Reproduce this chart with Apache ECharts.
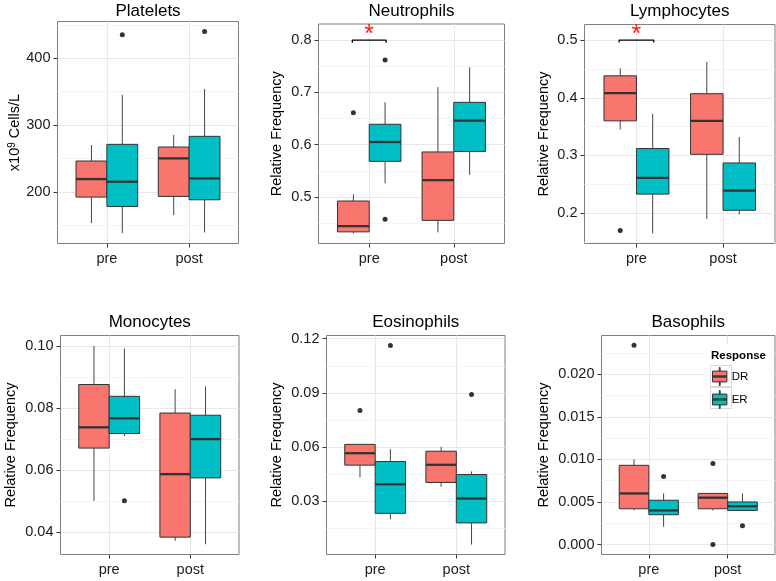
<!DOCTYPE html>
<html><head><meta charset="utf-8">
<script src="https://cdn.jsdelivr.net/npm/echarts@6/dist/echarts.min.js"></script>
<style>html,body{margin:0;padding:0;background:#fff}#c{width:776px;height:581px}</style>
</head><body><div id="c"></div>
<script>
// ---------- DATA ----------
const categories = ['pre', 'post'];
const groups = ['DR', 'ER'];
// five-number summaries per category: [lowWhisker, Q1, median, Q3, highWhisker]
const plateletsDR = [[153, 192, 219, 246, 270], [165, 193, 250, 267, 285]];
const plateletsER = [[138, 178, 215, 271, 345], [139, 188, 220, 283, 354]];
const plateletsDROut = [[], []];
const plateletsEROut = [[435], [440]];
const plateletsTicks = ['200', '300', '400'];

const neutrophilsDR = [[0.430, 0.433, 0.444, 0.492, 0.505], [0.432, 0.455, 0.532, 0.586, 0.710]];
const neutrophilsER = [[0.526, 0.568, 0.605, 0.639, 0.681], [0.542, 0.587, 0.646, 0.681, 0.748]];
const neutrophilsDROut = [[0.661], []];
const neutrophilsEROut = [[0.762, 0.457], []];
const neutrophilsTicks = ['0.5', '0.6', '0.7', '0.8'];
const neutrophilsSig = [0.8, 0.795, 0.82];   // bracket level, bracket end, star

const lymphocytesDR = [[0.345, 0.360, 0.408, 0.438, 0.451], [0.190, 0.302, 0.360, 0.407, 0.462]];
const lymphocytesER = [[0.165, 0.233, 0.261, 0.312, 0.372], [0.198, 0.205, 0.239, 0.287, 0.332]];
const lymphocytesDROut = [[0.170], []];
const lymphocytesEROut = [[], []];
const lymphocytesTicks = ['0.2', '0.3', '0.4', '0.5'];
const lymphocytesSig = [0.5, 0.496, 0.518];

const monocytesDR = [[0.0501, 0.0671, 0.0738, 0.0876, 0.1000], [0.0372, 0.0384, 0.0587, 0.0784, 0.0861]];
const monocytesER = [[0.0710, 0.0718, 0.0767, 0.0838, 0.0992], [0.0361, 0.0575, 0.0700, 0.0777, 0.0870]];
const monocytesDROut = [[], []];
const monocytesEROut = [[0.0501], []];
const monocytesTicks = ['0.04', '0.06', '0.08', '0.10'];

const eosinophilsDR = [[0.0433, 0.0500, 0.0566, 0.0615, 0.0618], [0.0380, 0.0404, 0.0502, 0.0577, 0.0601]];
const eosinophilsER = [[0.0200, 0.0233, 0.0394, 0.0520, 0.0588], [0.0060, 0.0180, 0.0315, 0.0448, 0.0465]];
const eosinophilsDROut = [[0.0803], []];
const eosinophilsEROut = [[0.1163], [0.0891]];
const eosinophilsTicks = ['0.03', '0.06', '0.09', '0.12'];

const basophilsDR = [[0.0040, 0.0042, 0.0060, 0.0093, 0.0100], [0.0040, 0.0042, 0.0055, 0.0060, 0.0060]];
const basophilsER = [[0.0021, 0.0035, 0.0040, 0.0052, 0.0060], [0.0040, 0.0040, 0.0045, 0.0050, 0.0060]];
const basophilsDROut = [[0.0234], [0.0095, 0.0000]];
const basophilsEROut = [[0.0080], [0.0022]];
const basophilsTicks = ['0.000', '0.005', '0.010', '0.015', '0.020'];

// ---------- LAYOUT / STYLE ----------
const COLORS = { DR: '#F8766D', ER: '#00BFC4' };
const BOX_W = 0.375, DODGE = 0.1875;
const FONT = 'Liberation Sans';
const panels = [
  { title: 'Platelets', d: [plateletsDR, plateletsER], o: [plateletsDROut, plateletsEROut], ticks: plateletsTicks,
    range: [122.5, 455], grid: { left: 57.5, top: 21.5, width: 181, height: 222 }, nameGap: 34, name: 'x10{sup|9} Cells/L' },
  { title: 'Neutrophils', d: [neutrophilsDR, neutrophilsER], o: [neutrophilsDROut, neutrophilsEROut], ticks: neutrophilsTicks,
    range: [0.4107, 0.831], grid: { left: 318.5, top: 24, width: 186, height: 219.5 }, nameGap: 34, name: 'Relative Frequency', sig: neutrophilsSig },
  { title: 'Lymphocytes', d: [lymphocytesDR, lymphocytesER], o: [lymphocytesDROut, lymphocytesEROut], ticks: lymphocytesTicks,
    range: [0.1474, 0.527], grid: { left: 584.5, top: 24.5, width: 190.5, height: 219 }, nameGap: 33.5, name: 'Relative Frequency', sig: lymphocytesSig },
  { title: 'Monocytes', d: [monocytesDR, monocytesER], o: [monocytesDROut, monocytesEROut], ticks: monocytesTicks,
    range: [0.0328, 0.1034], grid: { left: 60.5, top: 335.5, width: 178.5, height: 219 }, nameGap: 42, name: 'Relative Frequency' },
  { title: 'Eosinophils', d: [eosinophilsDR, eosinophilsER], o: [eosinophilsDROut, eosinophilsEROut], ticks: eosinophilsTicks,
    range: [0.0005, 0.1218], grid: { left: 326.5, top: 335.5, width: 178.5, height: 219 }, nameGap: 42, name: 'Relative Frequency' },
  { title: 'Basophils', d: [basophilsDR, basophilsER], o: [basophilsDROut, basophilsEROut], ticks: basophilsTicks,
    range: [-0.00117, 0.02454], grid: { left: 601.5, top: 335.5, width: 173.5, height: 219 }, nameGap: 50, name: 'Relative Frequency' }
];

function minorValues(ticks, range) {
  const t = ticks.map(parseFloat);
  const step = t[1] - t[0];
  const out = [];
  for (let k = -5; k < t.length + 5; k++) {
    const v = t[0] + (k + 0.5) * step;
    if (v > range[0] && v < range[1]) out.push(v);
  }
  return out;
}

function renderBox(params, api) {
  const x = api.value(0);
  const lo = api.coord([x, api.value(1)]);
  const q1 = api.coord([x, api.value(2)]);
  const md = api.coord([x, api.value(3)]);
  const q3 = api.coord([x, api.value(4)]);
  const hi = api.coord([x, api.value(5)]);
  const w = api.size([BOX_W, 0])[0];
  const cx = lo[0];
  const fill = api.visual('color');
  return { type: 'group', children: [
    { type: 'line', shape: { x1: cx, y1: hi[1], x2: cx, y2: q3[1] }, style: { stroke: '#444', lineWidth: 1 } },
    { type: 'line', shape: { x1: cx, y1: q1[1], x2: cx, y2: lo[1] }, style: { stroke: '#444', lineWidth: 1 } },
    { type: 'rect', shape: { x: cx - w / 2, y: q3[1], width: w, height: q1[1] - q3[1] }, style: { fill: fill, stroke: '#333', lineWidth: 1 } },
    { type: 'line', shape: { x1: cx - w / 2, y1: md[1], x2: cx + w / 2, y2: md[1] }, style: { stroke: '#333', lineWidth: 2.3 } }
  ] };
}

const option = {
  animation: false,
  textStyle: { fontFamily: FONT },
  title: [], grid: [], xAxis: [], yAxis: [], series: [],
  legend: {
    orient: 'vertical', left: 712, top: 367, itemWidth: 18, itemHeight: 18, itemGap: 4, padding: 0,
    textStyle: { fontSize: 11.5, color: '#000', fontFamily: FONT, padding: [0, 0, 0, -2] },
    itemStyle: { borderColor: '#333', borderWidth: 1 },
    data: groups.map(g => ({ name: g, icon: 'path://M9.5,0h1v4h-1z M2,4h16v5.5h-16z M2,9.5h16v1h-16z M2,10.5h16v5.5h-16z M9.5,16h1v4h-1z' })),
    z: 10
  },
  graphic: [
    { type: 'rect', left: 705, top: 345, shape: { width: 66, height: 67 }, style: { fill: '#fff' }, z: 5 },
    { type: 'rect', x: 710.5, y: 365.5, shape: { width: 21, height: 21 }, style: { fill: '#fff', stroke: '#d9d9d9', lineWidth: 1 }, z: 6 },
    { type: 'rect', x: 710.5, y: 387.5, shape: { width: 21, height: 21 }, style: { fill: '#fff', stroke: '#d9d9d9', lineWidth: 1 }, z: 6 },
    { type: 'text', x: 711, y: 350, style: { text: 'Response', fontSize: 11.5, fontWeight: 'bold', fill: '#000', fontFamily: FONT }, z: 7 }
  ]
};

panels.forEach((p, i) => {
  const g = p.grid;
  option.title.push({
    text: p.title, left: g.left + g.width / 2, top: g.top < 100 ? 2.5 : 313.5, textAlign: 'center', padding: 0,
    textStyle: { fontSize: 17, fontWeight: 'normal', color: '#000', fontFamily: FONT }
  });
  option.grid.push({ left: g.left, top: g.top, width: g.width, height: g.height, show: true, borderColor: '#7f7f7f', borderWidth: 1, backgroundColor: 'transparent', containLabel: false });
  option.xAxis.push({
    type: 'value', gridIndex: i, min: 0.4, max: 2.6,
    axisLine: { show: false, onZero: false },
    axisTick: { show: true, length: 4, lineStyle: { color: '#333' }, customValues: [1, 2] },
    axisLabel: { show: true, customValues: [1, 2], formatter: v => categories[Math.round(v) - 1], fontSize: 14.5, color: '#1a1a1a', margin: 8, fontFamily: FONT },
    splitLine: { show: true, lineStyle: { color: '#e8e8e8', width: 1 } }
  });
  const tickVals = p.ticks.map(parseFloat);
  const nameCfg = {
    name: p.name, nameLocation: 'middle', nameGap: p.nameGap,
    nameTextStyle: { fontSize: 14.5, color: '#000', fontFamily: FONT, rich: { sup: { fontSize: 10, verticalAlign: 'top', fontFamily: FONT, color: '#000' } } }
  };
  option.yAxis.push(Object.assign({
    type: 'value', gridIndex: i, min: p.range[0], max: p.range[1],
    axisLine: { show: false, onZero: false },
    axisTick: { show: true, length: 4, lineStyle: { color: '#333' }, customValues: tickVals },
    axisLabel: { show: true, customValues: tickVals, fontSize: 14.5, color: '#1a1a1a', margin: 7, fontFamily: FONT,
      formatter: v => { const k = tickVals.findIndex(t => Math.abs(t - v) < 1e-9); return k >= 0 ? p.ticks[k] : ''; } },
    splitLine: { show: true, lineStyle: { color: '#e8e8e8', width: 1 } }
  }, nameCfg));
  const minors = minorValues(p.ticks, p.range);
  option.yAxis.push({
    type: 'value', gridIndex: i, min: p.range[0], max: p.range[1],
    axisLine: { show: false, onZero: false }, axisLabel: { show: false },
    axisTick: { show: false, customValues: minors },
    splitLine: { show: true, lineStyle: { color: '#f5f5f5', width: 1 } }
  });
  const yIdx = 2 * i;
  groups.forEach((grp, gi) => {
    const off = gi === 0 ? -DODGE : DODGE;
    option.series.push({
      type: 'custom', name: grp, xAxisIndex: i, yAxisIndex: yIdx, renderItem: renderBox,
      itemStyle: { color: COLORS[grp], borderColor: '#333', borderWidth: 1 },
      encode: { x: 0, y: [1, 2, 3, 4, 5] }, z: 3,
      data: p.d[gi].map((s, ci) => [ci + 1 + off].concat(s))
    });
    const pts = [];
    p.o[gi].forEach((arr, ci) => arr.forEach(v => pts.push([ci + 1 + off, v])));
    option.series.push({
      type: 'scatter', name: grp + ' outliers', xAxisIndex: i, yAxisIndex: yIdx, symbolSize: 5,
      itemStyle: { color: '#000' }, data: pts, z: 4, silent: true
    });
  });
  if (p.sig) {
    const s = p.sig;
    option.series.push({
      type: 'line', name: 'bracket', xAxisIndex: i, yAxisIndex: yIdx, symbol: 'none',
      lineStyle: { color: '#000', width: 1.3 }, z: 4, silent: true,
      data: [[0.8, s[1]], [0.8, s[0]], [1.2, s[0]], [1.2, s[1]]]
    });
    option.series.push({
      type: 'custom', name: 'star', xAxisIndex: i, yAxisIndex: yIdx, z: 4, silent: true,
      data: [[1, s[2]]],
      renderItem: (params, api) => {
        const pt = api.coord([api.value(0), api.value(1)]);
        return { type: 'text', x: pt[0], y: pt[1] + 5, style: { text: '*', fill: '#ff1a1a', fontSize: 25, fontFamily: FONT, textAlign: 'center', textVerticalAlign: 'middle' } };
      }
    });
  }
});

const chart = echarts.init(document.getElementById('c'), null, { renderer: 'canvas' });
chart.setOption(option);
</script>
</body></html>
